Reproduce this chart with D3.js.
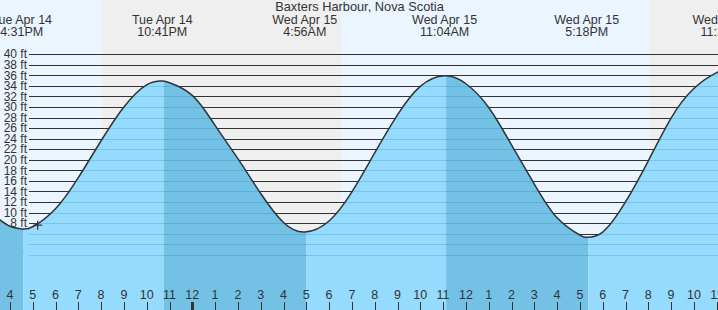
<!DOCTYPE html>
<html lang="en">
<head>
<meta charset="UTF-8" />
<title>Baxters Harbour, Nova Scotia</title>
<script src="https://d3js.org/d3.v7.min.js"></script>
<style>
  body { margin: 0; background: #fff; }
  svg { display: block; font-family: "Liberation Sans", Arial, sans-serif; }
</style>
</head>
<body>
<svg width="718" height="310"></svg>
<script>
const width = 718;
const height = 310;

// tide readings taken off the chart (feet)
const readTimes = [
  "2026-04-14 15:30", "2026-04-14 16:00", "2026-04-14 16:31", "2026-04-14 17:00",
  "2026-04-14 18:00", "2026-04-14 19:00", "2026-04-14 20:00", "2026-04-14 21:00",
  "2026-04-14 22:00", "2026-04-14 22:41", "2026-04-14 23:00", "2026-04-15 00:00",
  "2026-04-15 01:00", "2026-04-15 02:00", "2026-04-15 03:00", "2026-04-15 04:00",
  "2026-04-15 04:56", "2026-04-15 06:00", "2026-04-15 07:00", "2026-04-15 08:00",
  "2026-04-15 09:00", "2026-04-15 10:00", "2026-04-15 11:04", "2026-04-15 12:00",
  "2026-04-15 13:00", "2026-04-15 14:00", "2026-04-15 15:00", "2026-04-15 16:00",
  "2026-04-15 17:00", "2026-04-15 17:18", "2026-04-15 18:00", "2026-04-15 19:00",
  "2026-04-15 20:00", "2026-04-15 21:00", "2026-04-15 22:00", "2026-04-15 23:00",
  "2026-04-15 23:22"
];
const readHeights = [
  8.8, 7.4, 6.9, 7.3,
  10.7, 16.6, 23.6, 30.0,
  34.2, 34.9, 34.6, 32.2,
  26.5, 20.2, 13.6, 8.1,
  6.3, 8.4, 13.9, 21.3,
  28.5, 33.9, 35.9, 34.4,
  29.9, 22.8, 15.4, 9.0,
  5.7, 5.3, 6.3, 12.0,
  19.8, 27.9, 33.5, 36.5,
  36.8
];

// high / low tides shown at the top
const extremeTimes = [
  "2026-04-14 16:31", "2026-04-14 22:41", "2026-04-15 04:56",
  "2026-04-15 11:04", "2026-04-15 17:18", "2026-04-15 23:22"
];
const extremeTypes = ["L", "H", "L", "H", "L", "H"];

// sunset / sunrise
const nightStarts = ["2026-04-14 20:02", "2026-04-15 20:02"];
const nightEnds = ["2026-04-15 06:31", "2026-04-16 06:30"];

// current time marker
const nowTime = "2026-04-14 17:13";
const nowHeight = 7.6;

const yTicks = d3.range(2, 41, 2);
const title = "Baxters Harbour, Nova Scotia";

const parse = d3.timeParse("%Y-%m-%d %H:%M");
const data = readTimes.map((t, i) => ({ t: parse(t), h: readHeights[i] }));
const extremes = extremeTimes.map((t, i) => ({ t: parse(t), type: extremeTypes[i] }));

const t0 = parse("2026-04-14 16:00");
const t1 = parse("2026-04-15 23:00");
const x = d3.scaleTime().domain([t0, t1]).range([9.9, 9.9 + 31 * 22.8]);
const y = d3.scaleLinear().domain([0, 40]).range([265.3, 54.2]);

const svg = d3.select("svg");
const tStart = x.invert(0);
const tEnd = x.invert(width);
const curve = d3.curveNatural;

// day / night background
svg.append("rect").attr("width", width).attr("height", height).attr("fill", "#eaf5ff");
svg.selectAll(".night")
  .data(nightStarts.map((s, i) => [parse(s), parse(nightEnds[i])]))
  .enter()
  .append("rect")
  .attr("x", d => x(d[0]))
  .attr("width", d => x(d[1]) - x(d[0]))
  .attr("y", 0)
  .attr("height", height)
  .attr("fill", "#efefef");

// grid lines in the air
const grid = svg.append("g");
grid.selectAll("line")
  .data(yTicks)
  .enter()
  .append("line")
  .attr("x1", 29).attr("x2", width)
  .attr("y1", d => Math.round(y(d)) + 0.5)
  .attr("y2", d => Math.round(y(d)) + 0.5)
  .attr("stroke", "#333")
  .attr("stroke-width", 1);

grid.selectAll("text")
  .data(yTicks)
  .enter()
  .append("text")
  .attr("x", 27)
  .attr("y", d => y(d))
  .attr("dy", "0.35em")
  .attr("text-anchor", "end")
  .attr("font-size", 12)
  .attr("fill", "#333")
  .text(d => d + " ft");

// water
const area = d3.area()
  .x(d => x(d.t))
  .y0(height)
  .y1(d => y(d.h))
  .curve(curve);

svg.append("clipPath").attr("id", "water")
  .append("path").datum(data).attr("d", area);

const water = svg.append("g").attr("clip-path", "url(#water)");

// rising = light, falling = dark
const bands = [];
bands.push({ a: tStart, b: extremes[0].t, falling: extremes[0].type === "L" });
extremes.forEach((e, i) => {
  const next = i + 1 < extremes.length ? extremes[i + 1].t : tEnd;
  bands.push({ a: e.t, b: next, falling: e.type === "H" });
});

// band edges sit about 1.5px right of the extreme time
const edge = t => (t === tStart ? 0 : x(t) + 1.5);
water.selectAll("rect")
  .data(bands)
  .enter()
  .append("rect")
  .attr("x", d => edge(d.a))
  .attr("width", d => Math.max(0, (d.b === tEnd ? width : edge(d.b)) - edge(d.a)))
  .attr("y", 0)
  .attr("height", height)
  .attr("fill", d => d.falling ? "#73c2e6" : "#95dbfd");

water.selectAll("line")
  .data(yTicks)
  .enter()
  .append("line")
  .attr("x1", 29).attr("x2", width)
  .attr("y1", d => Math.round(y(d)) + 0.5)
  .attr("y2", d => Math.round(y(d)) + 0.5)
  .attr("stroke", "rgba(30,110,160,0.22)");

// tide curve
svg.append("path")
  .datum(data)
  .attr("fill", "none")
  .attr("stroke", "#333")
  .attr("stroke-width", 1.5)
  .attr("d", d3.line().x(d => x(d.t)).y(d => y(d.h)).curve(curve));

// now marker
const nx = x(parse(nowTime));
const ny = y(nowHeight);
svg.append("path")
  .attr("d", `M${nx - 4.5},${ny}H${nx + 4.5}M${nx},${ny - 4.5}V${ny + 4.5}`)
  .attr("stroke", "#333")
  .attr("stroke-width", 1.2);

// hour ticks
const hours = d3.timeHour.range(t0, d3.timeHour.offset(t1, 1));
const axis = svg.append("g");
axis.selectAll("line")
  .data(hours)
  .enter()
  .append("line")
  .attr("x1", d => Math.round(x(d)) + 0.5)
  .attr("x2", d => Math.round(x(d)) + 0.5)
  .attr("y1", 302).attr("y2", height)
  .attr("stroke", "#333")
  .attr("stroke-width", d => d.getHours() === 0 ? 3 : 1);

axis.selectAll("text")
  .data(hours)
  .enter()
  .append("text")
  .attr("x", d => x(d))
  .attr("y", 299)
  .attr("text-anchor", "middle")
  .attr("font-size", 12.5)
  .attr("fill", "#333")
  .text(d3.timeFormat("%-I"));

// labels at top
const fmtDay = d3.timeFormat("%a %b %-d");
const fmtTime = d3.timeFormat("%-I:%M%p");
const topLabels = svg.append("g").attr("font-size", 12.5).attr("fill", "#333").attr("text-anchor", "middle");
topLabels.selectAll(".day")
  .data(extremes)
  .enter()
  .append("text")
  .attr("x", d => x(d.t))
  .attr("y", 24)
  .text(d => fmtDay(d.t));
topLabels.selectAll(".time")
  .data(extremes)
  .enter()
  .append("text")
  .attr("x", d => x(d.t))
  .attr("y", 36)
  .text(d => fmtTime(d.t));

svg.append("text")
  .attr("x", 359.5)
  .attr("y", 11)
  .attr("text-anchor", "middle")
  .attr("font-size", 12.8)
  .attr("fill", "#333")
  .text(title);
</script>
</body>
</html>
